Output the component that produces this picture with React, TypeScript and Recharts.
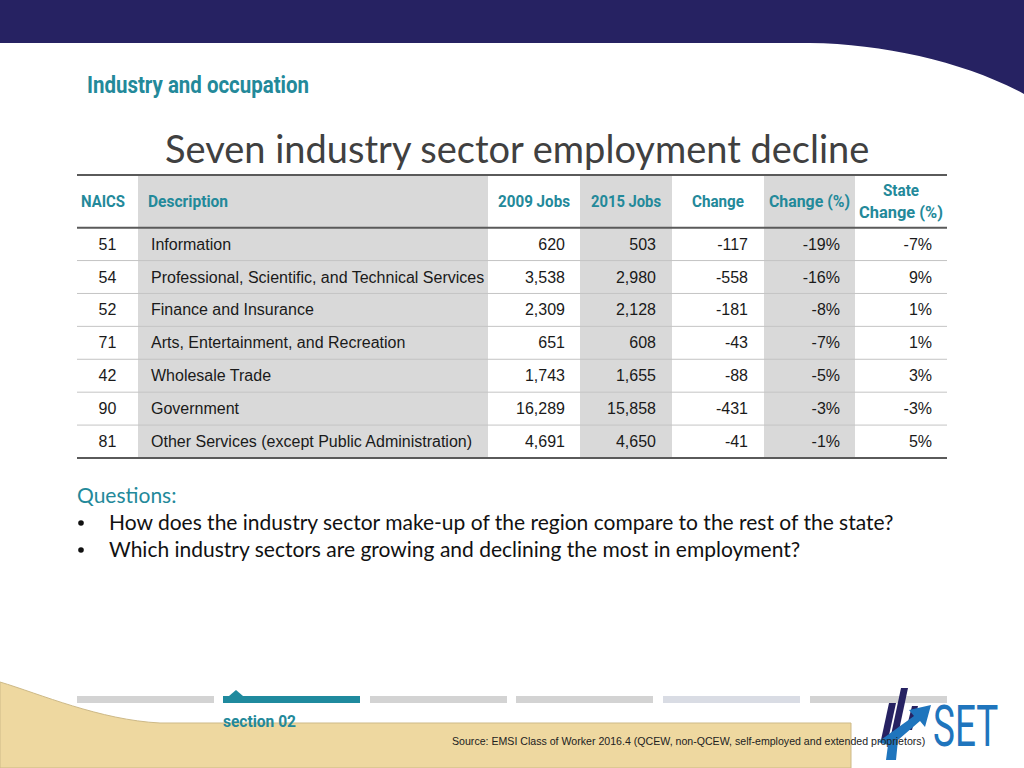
import React from "react"
import {
  ScatterChart,
  Scatter,
  XAxis,
  YAxis,
  ReferenceArea,
  ReferenceLine,
} from "recharts"

// table data
const naics = ["51", "54", "52", "71", "42", "90", "81"]
const descriptions = [
  "Information",
  "Professional, Scientific, and Technical Services",
  "Finance and Insurance",
  "Arts, Entertainment, and Recreation",
  "Wholesale Trade",
  "Government",
  "Other Services (except Public Administration)",
]
const jobs2009 = [620, 3538, 2309, 651, 1743, 16289, 4691]
const jobs2015 = [503, 2980, 2128, 608, 1655, 15858, 4650]
const jobsChange = [-117, -558, -181, -43, -88, -431, -41]
const changePct = [-19, -16, -8, -7, -5, -3, -1]
const stateChangePct = [-7, 9, 1, 1, 3, -3, 5]
const headers = ["NAICS", "Description", "2009 Jobs", "2015 Jobs", "Change", "Change (%)", "State|Change (%)"]

const questions = [
  "How does the industry sector make-up of the region compare to the rest of the state?",
  "Which industry sectors are growing and declining the most in employment?",
]

const TEAL = "#23899a"
const NAVY = "#262262"
const SHADE = "#d9d9d9"
const BODY_FONT = "'Liberation Sans', Arial, sans-serif"
const NARROW_FONT = "Roboto, 'Liberation Sans', sans-serif"
const CALIBRI_ISH = "Lato, 'Open Sans', sans-serif"

const fmtNum = (v: number) => v.toLocaleString("en-US")
const fmtPct = (v: number) => `${v}%`

// column layout in table pixel units (table is 870 wide)
const columns = [
  { values: naics, x: 30.5, anchor: "middle", hx: 4, hanchor: "start", hw: [44] },
  { values: descriptions, x: 74, anchor: "start", hx: 71, hanchor: "start", hw: [80] },
  { values: jobs2009.map(fmtNum), x: 488, anchor: "end", hx: 457, hanchor: "middle", hw: [72] },
  { values: jobs2015.map(fmtNum), x: 579, anchor: "end", hx: 549, hanchor: "middle", hw: [70] },
  { values: jobsChange.map(fmtNum), x: 671, anchor: "end", hx: 641, hanchor: "middle", hw: [52] },
  { values: changePct.map(fmtPct), x: 763, anchor: "end", hx: 732.5, hanchor: "middle", hw: [81] },
  { values: stateChangePct.map(fmtPct), x: 855, anchor: "end", hx: 824, hanchor: "middle", hw: [36, 84] },
]

// condensed look: no narrow font installed, so squeeze to the measured width
function NarrowText({ x, y, width, size, fill, anchor = "start", children }: any) {
  return (
    <text
      x={x}
      y={y}
      textAnchor={anchor}
      fontFamily={NARROW_FONT}
      fontWeight="bold"
      fontSize={size}
      fill={fill}
      textLength={width}
      lengthAdjust="spacingAndGlyphs"
    >
      {children}
    </text>
  )
}

const cellShape = (props: any) => {
  const { cx, cy, payload } = props
  return (
    <text
      x={cx}
      y={cy}
      textAnchor={payload.anchor}
      dominantBaseline="central"
      fontFamily={BODY_FONT}
      fontSize={16}
      fill="#1a1a1a"
    >
      {payload.label}
    </text>
  )
}

const headerShape = (props: any) => {
  const { cx, cy, payload } = props
  const lines = String(payload.label).split("|")
  return (
    <g>
      {lines.map((l, i) => (
        <NarrowText
          key={i}
          x={cx}
          y={cy + (lines.length === 1 ? 6 : i === 0 ? -5 : 17)}
          width={payload.widths[i]}
          size={17}
          fill={TEAL}
          anchor={payload.anchor}
        >
          {l}
        </NarrowText>
      ))}
    </g>
  )
}

function Table() {
  const headerData = headers.map((h, j) => ({
    x: columns[j].hx,
    y: -0.8,
    label: h,
    anchor: columns[j].hanchor,
    widths: columns[j].hw,
  }))
  return (
    <ScatterChart
      width={1024}
      height={768}
      margin={{ top: 175, right: 77, bottom: 310, left: 77 }}
      style={{ position: "absolute", left: 0, top: 0 }}
    >
      <XAxis type="number" dataKey="x" domain={[0, 870]} allowDataOverflow hide />
      <YAxis type="number" dataKey="y" domain={[-1.6, 7]} allowDataOverflow reversed hide />

      <ReferenceArea x1={61} x2={411} y1={-1.6} y2={7} fill={SHADE} fillOpacity={1} stroke="none" />
      <ReferenceArea x1={503} x2={595} y1={-1.6} y2={7} fill={SHADE} fillOpacity={1} stroke="none" />
      <ReferenceArea x1={687} x2={778} y1={-1.6} y2={7} fill={SHADE} fillOpacity={1} stroke="none" />

      {[1, 2, 3, 4, 5, 6].map((y) => (
        <ReferenceLine key={y} y={y} stroke="#c4c4c4" strokeWidth={1} />
      ))}
      <ReferenceLine y={-1.6} stroke="#5a5a5a" strokeWidth={2} />
      <ReferenceLine y={0} stroke="#5a5a5a" strokeWidth={2} />
      <ReferenceLine y={7} stroke="#5a5a5a" strokeWidth={2} />

      <Scatter data={headerData} shape={headerShape} isAnimationActive={false} />
      {columns.map((col, j) => (
        <Scatter
          key={j}
          data={col.values.map((v, i) => ({ x: col.x, y: i + 0.5, label: v, anchor: col.anchor }))}
          shape={cellShape}
          isAnimationActive={false}
        />
      ))}
    </ScatterChart>
  )
}

function Slide() {
  const segs = [
    { x: 77, c: "#d3d3d3" },
    { x: 223, c: "#1f8a9e" },
    { x: 370, c: "#d3d3d3" },
    { x: 516, c: "#d3d3d3" },
    { x: 663, c: "#d9dce4" },
    { x: 810, c: "#d3d3d3" },
  ]
  return (
    <svg width={1024} height={768} style={{ position: "absolute", left: 0, top: 0 }}>
      <rect x={0} y={0} width={1024} height={768} fill="#ffffff" />
      <path d="M0,0 H1024 V94 C965,62 885,44 810,43 H0 Z" fill={NAVY} />
      <NarrowText x={87} y={93} width={222} size={23} fill={TEAL}>
        Industry and occupation
      </NarrowText>
      <text x={165} y={163} fontFamily={CALIBRI_ISH} fontSize={38} fill="#404040">
        Seven industry sector employment decline
      </text>

      <text x={77} y={503} fontFamily={CALIBRI_ISH} fontSize={21} fill={TEAL}>
        Questions:
      </text>
      {questions.map((q, i) => (
        <g key={i}>
          <circle cx={81} cy={523 + i * 27} r={2.8} fill="#111" />
          <text x={109} y={530 + i * 27} fontFamily={CALIBRI_ISH} fontSize={21} fill="#111">
            {q}
          </text>
        </g>
      ))}

      <path
        d="M0,682 C40,694 100,720 160,723 H851 V768 H0 Z"
        fill="#eed8a0"
        stroke="#cdb987"
        strokeWidth={1}
      />
      {segs.map((s, i) => (
        <rect key={i} x={s.x} y={696} width={137} height={7} fill={s.c} />
      ))}
      <path d="M229,696 L236,690 L243,696 Z" fill="#1f8a9e" />
      <NarrowText x={223} y={727} width={73} size={17} fill={TEAL}>
        section 02
      </NarrowText>

      {/* SET logo */}
      <path d="M901,688 L908,688 L898,735 L891,735 Z" fill={NAVY} />
      <path d="M889,703 L896,703 L888,740 L881,740 Z" fill={NAVY} />
      <path d="M912,706 L918,706 L912,730 L906,730 Z" fill={NAVY} />
      <path
        d="M878,742 L914,716 L909,710 L931,705 L925,727 L920,721 L898,740 L896,760 L886,760 L888,745 Z"
        fill="#1f75bd"
      />
      <g transform="translate(933,746) scale(0.9,1.4)">
        <text x={0} y={0} fontFamily={NARROW_FONT} fontSize={41} fill="#1f75bd">
          SET
        </text>
      </g>

      <text x={452} y={745} fontFamily={BODY_FONT} fontSize={10.6} fill="#222">
        Source: EMSI Class of Worker 2016.4 (QCEW, non-QCEW, self-employed and extended proprietors)
      </text>
    </svg>
  )
}

export default function App() {
  return (
    <div style={{ position: "absolute", left: 0, top: 0, width: 1024, height: 768, overflow: "hidden", background: "#fff" }}>
      <Slide />
      <Table />
    </div>
  )
}
